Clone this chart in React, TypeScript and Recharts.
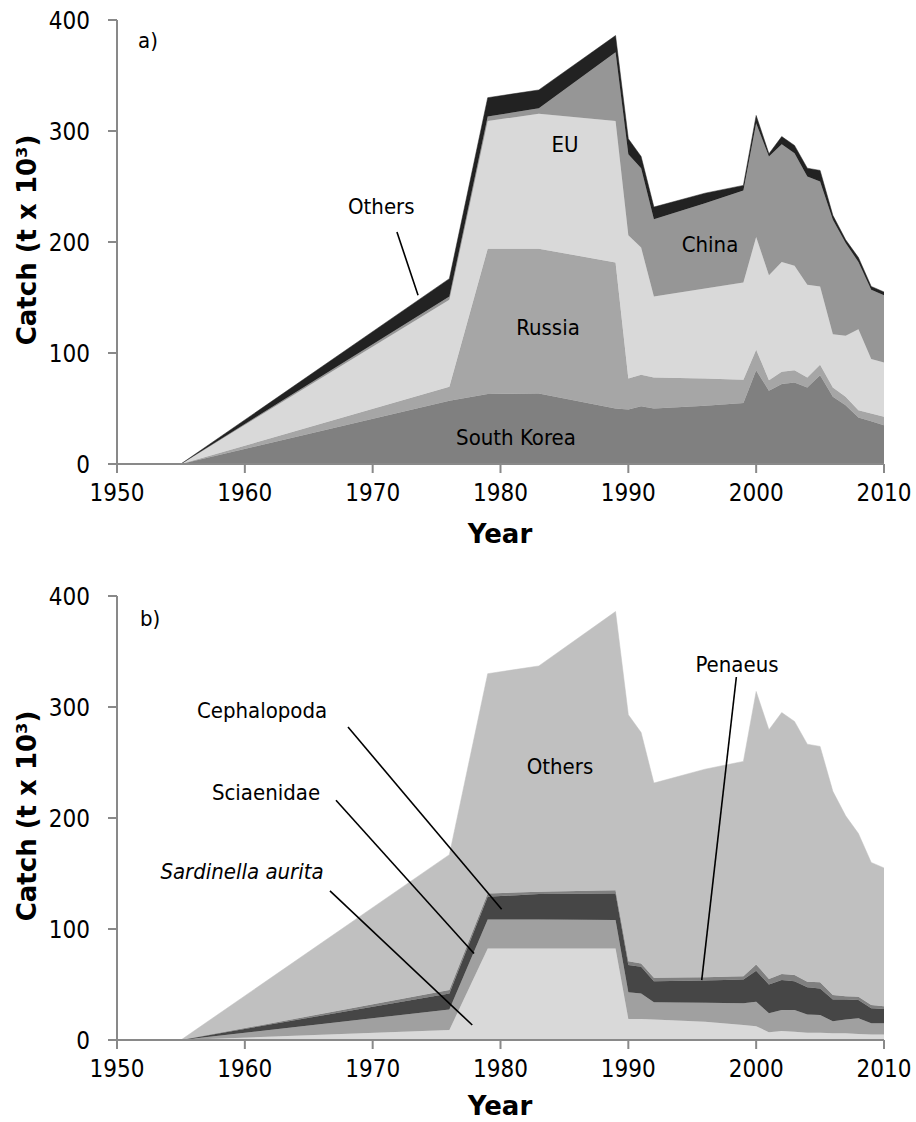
import { AreaChart, Area, XAxis, YAxis, ReferenceLine } from "recharts";

const years = [1950, 1955, 1976, 1979, 1983, 1989, 1990, 1991, 1992, 1996, 1999, 2000, 2001, 2002, 2003, 2004, 2005, 2006, 2007, 2008, 2009, 2010];

// panel a) catch by fleet
const southKorea = [0, 0, 57, 63, 63.5, 50, 49, 52, 50, 52.5, 55, 84.5, 66, 72, 73.5, 69, 80, 60.5, 53, 42, 38.5, 35];
const russia = [0, 0, 12.5, 131, 130.5, 131.5, 28, 28.5, 28, 24.5, 21, 18.5, 9.5, 11, 11, 9, 9.5, 8.5, 7.5, 6.5, 7, 7.5];
const eu = [0, 0, 78.5, 115, 121.5, 127.5, 129, 114.5, 73, 81, 87.5, 101.5, 94.5, 99, 94, 83.5, 70.5, 48, 55, 73, 49, 49];
const china = [0, 0, 3, 4, 5, 62, 73, 71.5, 69.5, 77, 83, 102.5, 107, 106, 101.5, 97.5, 94.5, 103, 83.5, 60.5, 62.5, 60.5];
const othersFleet = [0, 0, 16, 17, 16.5, 15, 14, 10.5, 11, 9, 4.5, 7, 2.5, 7, 7, 7.5, 10, 4, 3, 4, 3, 3];

// panel b) catch by species
const sardinella = [0, 0, 9, 82.5, 82.5, 82.5, 19, 19, 18.5, 16.5, 13.5, 12.5, 7, 8, 7.5, 6.5, 6.5, 6, 6, 5.5, 5, 5];
const sciaenidae = [0, 0, 18.5, 26, 26, 25.5, 24, 23, 15.5, 17, 19.5, 22, 17, 19, 19.5, 16.5, 16, 11, 12.5, 14, 10, 10];
const cephalopoda = [0, 0, 14.5, 20.5, 23, 24, 24.5, 24, 19, 20, 21.5, 28, 26, 27, 26, 24.5, 24, 19.5, 18, 16.5, 13.5, 13];
const penaeus = [0, 0, 3, 3, 2, 3, 3.5, 3, 3, 3, 3, 5.5, 5, 5.5, 5.5, 5, 5.5, 4, 3, 3, 3, 2.5];
const othersSpecies = [0, 0, 122, 198, 203.5, 251, 222, 208, 175.5, 187.5, 193.5, 246, 224.5, 235.5, 228.5, 214, 212.5, 183.5, 162.5, 147, 128.5, 124.5];

const xTicks = [1950, 1960, 1970, 1980, 1990, 2000, 2010];
const yTicks = [0, 100, 200, 300, 400];

const fleetData = years.map((year, i) => ({
  year,
  southKorea: southKorea[i],
  russia: russia[i],
  eu: eu[i],
  china: china[i],
  others: othersFleet[i],
}));

const speciesData = years.map((year, i) => ({
  year,
  sardinella: sardinella[i],
  sciaenidae: sciaenidae[i],
  cephalopoda: cephalopoda[i],
  penaeus: penaeus[i],
  others: othersSpecies[i],
}));

const FONT = "'DejaVu Sans Condensed', 'DejaVu Sans', sans-serif";
const AXIS = "#898989";

const tickStyle = { fill: "#000", fontSize: 24, fontFamily: FONT, fontStretch: "condensed" };

const chartMargin = { top: 20, right: 32, bottom: 10, left: 67 };

function axes() {
  return [
    <XAxis
      key="x"
      dataKey="year"
      type="number"
      domain={[1950, 2010]}
      ticks={xTicks}
      stroke={AXIS}
      strokeWidth={2}
      tickSize={9}
      tickMargin={11}
      height={40}
      tick={tickStyle}
      allowDataOverflow
    />,
    <YAxis
      key="y"
      domain={[0, 400]}
      ticks={yTicks}
      stroke={AXIS}
      strokeWidth={2}
      tickSize={9}
      tickMargin={18}
      width={50}
      tick={tickStyle}
      allowDataOverflow
    />,
  ];
}

const leader = { stroke: "#000", strokeWidth: 1.6, ifOverflow: "visible" as const };

const txt = { fontFamily: FONT, fontStretch: "condensed", fontSize: 22, fill: "#000" };
const title = { fontFamily: "'DejaVu Sans', sans-serif", fontWeight: "bold" as const, fontSize: 26, fill: "#000" };

export default function App() {
  return (
    <div style={{ position: "absolute", left: 0, top: 0, width: 916, height: 1122, background: "#fff" }}>
      <div style={{ position: "absolute", left: 0, top: 0 }}>
        <AreaChart width={916} height={514} data={fleetData} margin={chartMargin}>
          {axes()}
          <Area dataKey="southKorea" stackId="a" type="linear" fill="#808080" stroke="#808080" strokeWidth={0.5} fillOpacity={1} isAnimationActive={false} />
          <Area dataKey="russia" stackId="a" type="linear" fill="#a6a6a6" stroke="#a6a6a6" strokeWidth={0.5} fillOpacity={1} isAnimationActive={false} />
          <Area dataKey="eu" stackId="a" type="linear" fill="#d9d9d9" stroke="#d9d9d9" strokeWidth={0.5} fillOpacity={1} isAnimationActive={false} />
          <Area dataKey="china" stackId="a" type="linear" fill="#969696" stroke="#969696" strokeWidth={0.5} fillOpacity={1} isAnimationActive={false} />
          <Area dataKey="others" stackId="a" type="linear" fill="#222222" stroke="#222222" strokeWidth={0.5} fillOpacity={1} isAnimationActive={false} />
          <ReferenceLine segment={[{ x: 1971.9, y: 209 }, { x: 1973.55, y: 152 }]} {...leader} />
        </AreaChart>
      </div>
      <div style={{ position: "absolute", left: 0, top: 576 }}>
        <AreaChart width={916} height={514} data={speciesData} margin={chartMargin}>
          {axes()}
          <Area dataKey="sardinella" stackId="b" type="linear" fill="#d9d9d9" stroke="#d9d9d9" strokeWidth={0.5} fillOpacity={1} isAnimationActive={false} />
          <Area dataKey="sciaenidae" stackId="b" type="linear" fill="#a0a0a0" stroke="#a0a0a0" strokeWidth={0.5} fillOpacity={1} isAnimationActive={false} />
          <Area dataKey="cephalopoda" stackId="b" type="linear" fill="#464646" stroke="#464646" strokeWidth={0.5} fillOpacity={1} isAnimationActive={false} />
          <Area dataKey="penaeus" stackId="b" type="linear" fill="#808080" stroke="#808080" strokeWidth={0.5} fillOpacity={1} isAnimationActive={false} />
          <Area dataKey="others" stackId="b" type="linear" fill="#c0c0c0" stroke="#c0c0c0" strokeWidth={0.5} fillOpacity={1} isAnimationActive={false} />
          <ReferenceLine segment={[{ x: 1968.07, y: 282 }, { x: 1980.09, y: 117.7 }]} {...leader} />
          <ReferenceLine segment={[{ x: 1967.13, y: 216 }, { x: 1977.93, y: 78 }]} {...leader} />
          <ReferenceLine segment={[{ x: 1966.66, y: 134.4 }, { x: 1977.79, y: 13.5 }]} {...leader} />
          <ReferenceLine segment={[{ x: 1998.45, y: 327 }, { x: 1995.74, y: 54 }]} {...leader} />
        </AreaChart>
      </div>
      <svg width={916} height={1122} style={{ position: "absolute", left: 0, top: 0, pointerEvents: "none" }}>
        {/* panel a */}
        <text x={138} y={48} {...txt}>a)</text>
        <text x={348} y={214} {...txt}>Others</text>
        <text x={565} y={152} textAnchor="middle" {...txt}>EU</text>
        <text x={710} y={252} textAnchor="middle" {...txt}>China</text>
        <text x={548} y={335} textAnchor="middle" {...txt}>Russia</text>
        <text x={516} y={445} textAnchor="middle" {...txt}>South Korea</text>
        <text x={500} y={543} textAnchor="middle" {...title}>Year</text>
        <text x={36} y={240} textAnchor="middle" transform="rotate(-90 36 240)" {...title}>Catch (t x 10³)</text>
        {/* panel b */}
        <text x={140} y={626} {...txt}>b)</text>
        <text x={262} y={718} textAnchor="middle" {...txt}>Cephalopoda</text>
        <text x={266} y={800} textAnchor="middle" {...txt}>Sciaenidae</text>
        <text x={242} y={879} textAnchor="middle" fontStyle="italic" {...txt}>Sardinella aurita</text>
        <text x={560} y={774} textAnchor="middle" {...txt}>Others</text>
        <text x={737} y={672} textAnchor="middle" {...txt}>Penaeus</text>
        <text x={500} y={1115} textAnchor="middle" {...title}>Year</text>
        <text x={36} y={816} textAnchor="middle" transform="rotate(-90 36 816)" {...title}>Catch (t x 10³)</text>
      </svg>
    </div>
  );
}
